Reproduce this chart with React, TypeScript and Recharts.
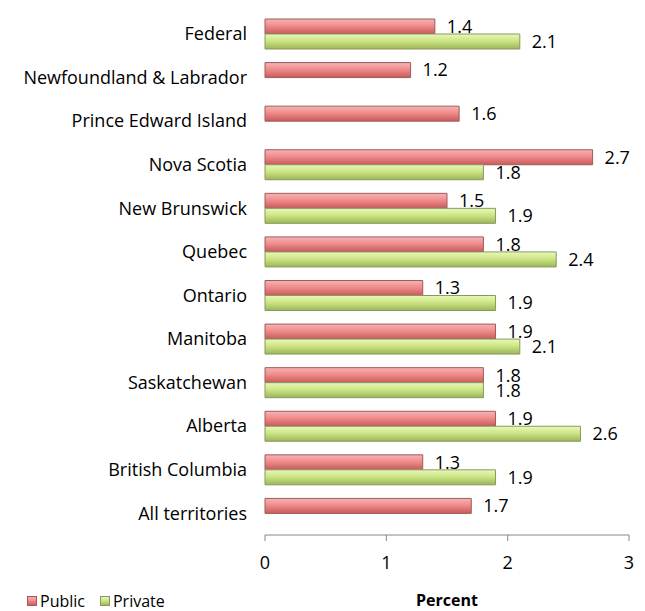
import { BarChart, Bar, XAxis, YAxis, LabelList } from "recharts";

const regions = [
  "Federal",
  "Newfoundland & Labrador",
  "Prince Edward Island",
  "Nova Scotia",
  "New Brunswick",
  "Quebec",
  "Ontario",
  "Manitoba",
  "Saskatchewan",
  "Alberta",
  "British Columbia",
  "All territories",
];
const publicValues = [1.4, 1.2, 1.6, 2.7, 1.5, 1.8, 1.3, 1.9, 1.8, 1.9, 1.3, 1.7];
const privateValues = [2.1, null, null, 1.8, 1.9, 2.4, 1.9, 2.1, 1.8, 2.6, 1.9, null];
const xTicks = [0, 1, 2, 3];
const boundaryTicks = [0, 1, 2, 3, 4, 5, 6, 7, 8, 9, 10, 11, 12];

const data = regions.map((region, i) => ({
  region,
  Public: publicValues[i],
  Private: privateValues[i],
}));

const FONT = "'Open Sans', sans-serif";
const FS = 18;

const LegendItem = ({ name, grad, stroke }: { name: string; grad: string; stroke: string }) => (
  <span style={{ display: "flex", alignItems: "center", marginRight: 15 }}>
    <svg width={10} height={10} style={{ marginRight: 3 }}>
      <rect x={0.5} y={0.5} width={9} height={9} fill={`url(#${grad})`} stroke={stroke} />
    </svg>
    {name}
  </span>
);

export default function App() {
  return (
    <div style={{ position: "relative", width: 637, height: 603 }}>
      <BarChart
        width={637}
        height={603}
        data={data}
        layout="vertical"
        margin={{ top: 4, right: 16, bottom: 0, left: 0 }}
        barSize={15}
        barGap={0}
      >
        <defs>
          <linearGradient id="gradPublic" x1="0" y1="0" x2="0" y2="1">
            <stop offset="0%" stopColor="#f6b4b4" />
            <stop offset="45%" stopColor="#f08c8c" />
            <stop offset="100%" stopColor="#c85a5a" />
          </linearGradient>
          <linearGradient id="gradPrivate" x1="0" y1="0" x2="0" y2="1">
            <stop offset="0%" stopColor="#eaf7bd" />
            <stop offset="45%" stopColor="#cde685" />
            <stop offset="100%" stopColor="#9cb55a" />
          </linearGradient>
        </defs>
        <XAxis
          type="number"
          domain={[0, 3]}
          ticks={xTicks}
          stroke="#868686"
          tick={{ fill: "#000", fontSize: FS, fontFamily: FONT }}
          tickSize={6}
          tickMargin={15}
          height={76}
          label={{
            value: "Percent",
            position: "insideBottom",
            offset: 5,
            style: { fontWeight: "bold", fontSize: 16, fontFamily: FONT, fill: "#000" },
          }}
        />
        <YAxis
          yAxisId="grid"
          type="number"
          domain={[0, 12]}
          ticks={boundaryTicks}
          width={0}
          tick={false}
          tickSize={7}
          stroke="#868686"
        />
        <YAxis
          type="category"
          dataKey="region"
          width={257}
          axisLine={false}
          tickLine={false}
          tickMargin={12}
          tick={{ fill: "#000", fontSize: FS, fontFamily: FONT }}
        />
        <Bar dataKey="Public" fill="url(#gradPublic)" stroke="#a05a5a" isAnimationActive={false}>
          <LabelList
            dataKey="Public"
            position="right"
            offset={12}
            style={{ fill: "#000", fontSize: FS, fontFamily: FONT }}
          />
        </Bar>
        <Bar dataKey="Private" fill="url(#gradPrivate)" stroke="#879a5c" isAnimationActive={false}>
          <LabelList
            dataKey="Private"
            position="right"
            offset={12}
            style={{ fill: "#000", fontSize: FS, fontFamily: FONT }}
          />
        </Bar>
      </BarChart>
      <div
        style={{
          position: "absolute",
          left: 19,
          top: 582,
          display: "flex",
          fontFamily: FONT,
          fontSize: 16,
          lineHeight: "22px",
          color: "#000",
        }}
      >
        <LegendItem name="Public" grad="gradPublic" stroke="#a05a5a" />
        <LegendItem name="Private" grad="gradPrivate" stroke="#879a5c" />
      </div>
    </div>
  );
}
